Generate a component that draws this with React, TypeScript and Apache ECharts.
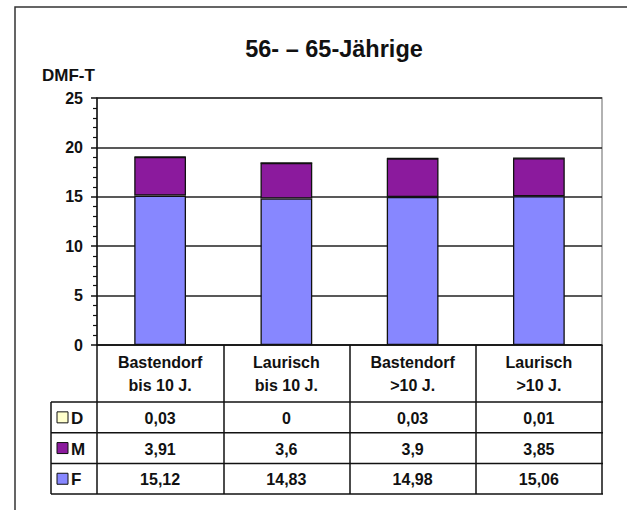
import React, { useEffect, useRef } from "react";
import * as echarts from "echarts";

const categories = ["Bastendorf\nbis 10 J.", "Laurisch\nbis 10 J.", "Bastendorf\n>10 J.", "Laurisch\n>10 J."];
const seriesNames = ["D", "M", "F"];
const valuesD = [0.03, 0, 0.03, 0.01];
const valuesM = [3.91, 3.6, 3.9, 3.85];
const valuesF = [15.12, 14.83, 14.98, 15.06];
const colors: Record<string, string> = { D: "#ffffcc", M: "#8b1a9d", F: "#8787ff" };
const titleText = "56- – 65-Jährige";
const yName = "DMF-T";

const FONT = "'Liberation Sans', Arial, sans-serif";

export default function App() {
  const ref = useRef<HTMLDivElement>(null);
  useEffect(() => {
    if (!ref.current) return;
    const chart = echarts.init(ref.current, null, { renderer: "svg" });
    const W = 627, H = 510;
    const gl = 97, gr = 602, gt = 98, gb = 345;
    const colW = (gr - gl) / categories.length;
    const rowsTop = 402;
    const rowH = 30.7;
    const rowData: Record<string, number[]> = { D: valuesD, M: valuesM, F: valuesF };
    const fmt = (v: number) => String(v).replace(".", ",");

    const graphics: any[] = [];
    graphics.push({
      type: "rect", shape: { x: 15, y: 7, width: 630, height: 530 },
      style: { fill: "none", stroke: "#333", lineWidth: 1.5 }, z: 10,
    });
    graphics.push({
      type: "text", x: 334, y: 49,
      style: { text: titleText, font: `bold 23.5px ${FONT}`, fill: "#111", align: "center", verticalAlign: "middle" },
    });
    graphics.push({
      type: "text", x: 42, y: 75,
      style: { text: yName, font: `bold 17px ${FONT}`, fill: "#111", verticalAlign: "middle" },
    });
    for (let r = 0; r <= seriesNames.length; r++) {
      const y = rowsTop + r * rowH;
      graphics.push({
        type: "line", shape: { x1: 51, y1: y, x2: gr + 1, y2: y },
        style: { stroke: "#111", lineWidth: 1.5 }, z: 10,
      });
    }
    graphics.push({
      type: "line", shape: { x1: 51, y1: rowsTop, x2: 51, y2: rowsTop + 3 * rowH },
      style: { stroke: "#111", lineWidth: 1.5 }, z: 10,
    });
    seriesNames.forEach((name, r) => {
      const cy = rowsTop + (r + 0.5) * rowH;
      graphics.push({
        type: "rect", shape: { x: 57, y: cy - 5.5, width: 11, height: 11 },
        style: { fill: colors[name], stroke: "#111", lineWidth: 1 }, z: 10,
      });
      graphics.push({
        type: "text", x: 71, y: cy + 1,
        style: { text: name, font: `bold 17px ${FONT}`, fill: "#111", verticalAlign: "middle" }, z: 10,
      });
      rowData[name].forEach((v, i) => {
        graphics.push({
          type: "text", x: gl + (i + 0.5) * colW, y: cy + 1,
          style: { text: fmt(v), font: `bold 16px ${FONT}`, fill: "#111", align: "center", verticalAlign: "middle" }, z: 10,
        });
      });
    });

    const mkSeries = (name: string, data: number[]) => ({
      name, type: "bar", stack: "total", data, barWidth: "41%",
      itemStyle: { color: colors[name], borderColor: "#111", borderWidth: 1.3 },
    });

    chart.setOption({
      animation: false,
      grid: { left: gl, right: W - gr, top: gt, bottom: H - gb, show: true, borderColor: "#999", borderWidth: 1.5 },
      xAxis: {
        type: "category", data: categories,
        axisLine: { lineStyle: { color: "#111", width: 1.5 } },
        axisTick: { show: true, length: rowsTop + 3 * rowH - gb, lineStyle: { color: "#111", width: 1.5 } },
        axisLabel: { interval: 0, margin: 6, fontFamily: FONT, fontWeight: "bold", fontSize: 16, color: "#111", lineHeight: 23 },
      },
      yAxis: {
        type: "value", min: 0, max: 25, interval: 5,
        axisLine: { show: true, lineStyle: { color: "#111", width: 1.5 } },
        axisTick: { show: true, length: 6, lineStyle: { color: "#111", width: 1.5 } },
        minorTick: { show: true, splitNumber: 5, length: 4, lineStyle: { color: "#111", width: 1.2 } },
        splitLine: { show: true, lineStyle: { color: "#222", width: 1.6 } },
        axisLabel: { margin: 14, fontFamily: FONT, fontWeight: "bold", fontSize: 16, color: "#111" },
      },
      series: [mkSeries("F", valuesF), mkSeries("M", valuesM), mkSeries("D", valuesD)],
      graphic: graphics,
    });
    return () => chart.dispose();
  }, []);
  return <div ref={ref} style={{ width: 627, height: 510, position: "absolute", left: 0, top: 0 }} />;
}
